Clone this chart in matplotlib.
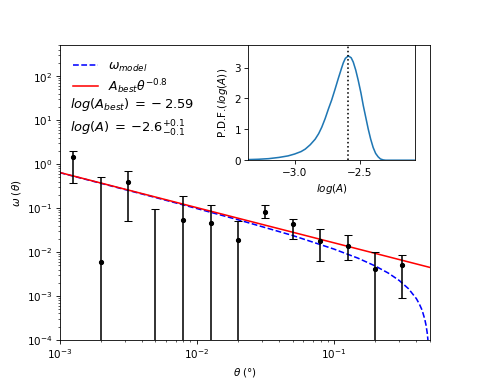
import numpy as np
import matplotlib.pyplot as plt

# measured correlation function (bin centres in degrees)
theta = [1.26e-3, 2.0e-3, 3.16e-3, 5.0e-3, 7.94e-3, 1.26e-2, 2.0e-2,
         3.16e-2, 5.0e-2, 7.94e-2, 0.126, 0.2, 0.316]
w = [1.42, 0.0059, 0.40, -0.02, 0.053, 0.046, 0.0187,
     0.082, 0.0423, 0.0177, 0.0136, 0.0041, 0.0052]
w_lo = [0.37, -0.5, 0.052, -0.1, -0.1, -0.1, -0.1,
        0.060, 0.0197, 0.0061, 0.0065, -0.01, 0.00089]
w_hi = [2.02, 0.50, 0.68, 0.093, 0.19, 0.119, 0.050,
        0.119, 0.057, 0.0333, 0.0243, 0.0101, 0.0086]

# model curve (power law minus integral constraint)
theta_model = [0.001, 0.002, 0.005, 0.01, 0.02, 0.05, 0.1, 0.15, 0.2, 0.25,
               0.3, 0.35, 0.4, 0.42, 0.44, 0.46, 0.47, 0.48, 0.485, 0.49]
w_model = [0.641, 0.366, 0.174, 0.0978, 0.0543, 0.0238, 0.0117, 0.00725,
           0.00483, 0.00331, 0.00225, 0.00147, 0.00087, 0.00066, 0.00048,
           0.00030, 0.00022, 0.000144, 0.000105, 0.000067]

# pure power law A_best * theta^-0.8
theta_pow = [1e-3, 0.5]
w_pow = [0.646, 0.00448]

# posterior of log(A)
logA = [-3.356, -3.28, -3.2, -3.12, -3.05, -3.0, -2.95, -2.918, -2.88, -2.842,
        -2.815, -2.791, -2.765, -2.74, -2.715, -2.689, -2.664, -2.64, -2.626,
        -2.61, -2.587, -2.565, -2.549, -2.53, -2.511, -2.49, -2.472, -2.45,
        -2.434, -2.415, -2.396, -2.377, -2.358, -2.34, -2.319, -2.3, -2.072]
pdf = [0.02, 0.03, 0.05, 0.09, 0.14, 0.20, 0.28, 0.36, 0.50, 0.68,
       0.86, 1.07, 1.35, 1.66, 1.95, 2.30, 2.65, 2.97, 3.15,
       3.30, 3.38, 3.32, 3.18, 2.92, 2.59, 2.18, 1.77, 1.33,
       1.01, 0.68, 0.41, 0.22, 0.11, 0.04, 0.01, 0.0, 0.0]
log_A_best = -2.59

fig = plt.figure(figsize=(477.4 / 75, 382.4 / 75), dpi=75)
ax = fig.add_subplot(111)

w = np.array(w)
yerr = [w - np.array(w_lo), np.array(w_hi) - w]
ax.plot(theta_model, w_model, 'b--', label=r'$\omega_{model}$')
ax.plot(theta_pow, w_pow, 'r-', label=r'$A_{best}\theta^{-0.8}$')
ax.errorbar(theta, w, yerr=yerr, fmt='o', color='k', ms=4, capsize=3.5)

ax.set_xscale('log')
ax.set_yscale('log')
ax.set_xlim(1e-3, 0.5)
ax.set_ylim(1e-4, 500)
ax.set_xlabel(r'$\theta$ (°)')
ax.set_ylabel(r'$\omega$ ($\theta$)')
ax.legend(loc='upper left', frameon=False, fontsize=12, labelspacing=0.25,
          borderaxespad=0.7)

ax.text(0.028, 0.79, r'$log(A_{best})\:=\:-\:2.59$', transform=ax.transAxes,
        fontsize=12.5, va='baseline')
ax.text(0.028, 0.704, r'$log(A)\:=\:{-2.6}^{+0.1}_{-0.1}$', transform=ax.transAxes,
        fontsize=12.5, va='baseline')

ins = fig.add_axes([0.52, 0.58, 0.35, 0.3])
ins.plot(logA, pdf)
ins.axvline(log_A_best, color='k', ls=':')
ins.set_xlim(-3.356, -2.072)
ins.set_ylim(0, 1.1 * max(pdf))
ins.set_xticks([-3.0, -2.5])
ins.set_xlabel(r'$log(A)$')
ins.set_ylabel(r'P.D.F.($log(A)$)')

plt.savefig('out.png')
